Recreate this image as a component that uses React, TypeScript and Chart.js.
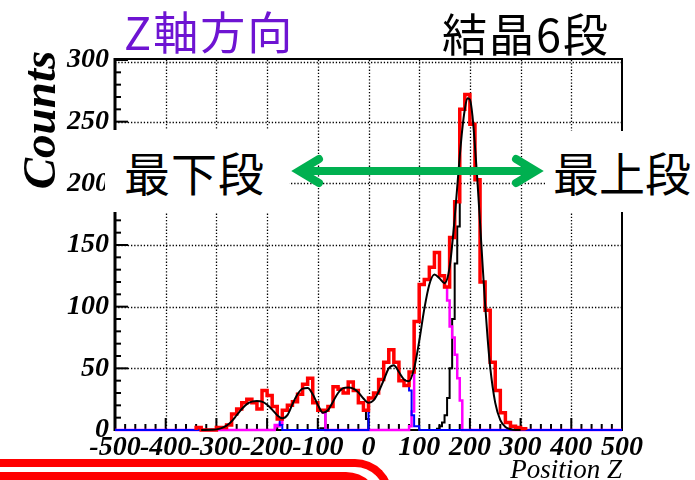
import React, { useEffect, useRef } from 'react';
import { Chart, registerables } from 'chart.js';

Chart.register(...registerables);

// ---------- axis ticks ----------
const xTicks = [-500, -400, -300, -200, -100, 0, 100, 200, 300, 400, 500];
const xTickLabels = ['-500', '-400', '-300', '-200', '-100', '0', '100', '200', '300', '400', '500'];
const yTicks = [0, 50, 100, 150, 200, 250, 300];
const yTickLabels = ['0', '50', '100', '150', '200', '250', '300'];
const xMinorStep = 20;
const yMinorStep = 10;

// ---------- total histogram (red), 10-unit bins starting at -340 ----------
const redStart = -340;
const redBinWidth = 10;
const redCounts = [
  2, 0, 0, 0, 2, 2, 4, 13, 17, 22, 25, 22, 17, 32, 28, 19, 9, 16, 20, 23,
  29, 37, 42, 22, 16, 16, 19, 35, 33, 30, 39, 32, 22, 16, 26, 30, 41, 55, 65, 55,
  40, 36, 47, 88, 118, 122, 132, 144, 125, 116, 156, 185, 260, 272, 248, 203, 120, 97, 55, 32,
  14, 6, 3, 2, 1,
];

// ---------- layer components ----------
const blueEdges = [-500, -300, -290, -280, -270, -260, -250, -240, -230, -220, -210, -200, -190, -180, -175, -170, 0, 10, 20, 30, 40, 50, 60, 70, 80, 85, 90, 100, 500];
const blueCounts = [0, 2, 2, 4, 13, 17, 22, 25, 22, 17, 32, 28, 19, 9, 4, 0, 26, 30, 41, 55, 65, 55, 40, 36, 32, 12, 3, 0, 0];

const magentaEdges = [-500, -185, -180, -175, -170, -160, -150, -140, -130, -120, -110, -100, -90, -85, 80, 85, 90, 100, 110, 120, 130, 140, 150, 155, 160, 165, 170, 175, 180, 185, 500];
const magentaCounts = [0, 4, 3, 5, 16, 20, 23, 29, 37, 42, 22, 16, 14, 0, 3, 15, 88, 118, 122, 132, 144, 125, 116, 105, 84, 75, 61, 42, 24, 0, 0];

const blackEdges = [-500, -95, -85, -80, -70, -60, -50, -40, -30, -20, -10, -5, 0, 135, 140, 145, 150, 155, 160, 165, 170, 175, 180, 190, 200, 210, 220, 230, 240, 250, 260, 270, 280, 290, 300, 310, 500];
const blackCounts = [0, 1.5, 16, 19, 35, 33, 30, 39, 32, 22, 16, 9, 0, 1, 3, 6, 12, 26, 50, 90, 135, 165, 260, 272, 248, 203, 120, 97, 55, 32, 14, 6, 3, 2, 1, 0, 0];

// ---------- fit curve (black) ----------
const fitX = [-330, -310, -300, -290, -280, -270, -260, -250, -240, -230, -220, -210, -200, -190, -180, -170, -160, -150, -140, -130, -120, -110, -100, -90, -80, -70, -60, -50, -40, -30, -20, -10, 0, 10, 20, 30, 40, 50, 60, 70, 80, 90, 100, 110, 120, 130, 140, 150, 160, 170, 175, 180, 185, 190, 195, 200, 205, 210, 215, 220, 225, 230, 235, 240, 250, 260, 270, 280, 290, 300];
const fitY = [0, 0.2, 0.5, 1.5, 3.5, 7, 12, 17, 21, 23, 23.5, 23, 20.5, 16.5, 12, 9.5, 12, 21, 29, 33.5, 34, 29, 20.5, 14, 16, 23, 30, 34, 34.5, 33.5, 30.5, 25.5, 22, 24, 31, 40.5, 50, 52.5, 47, 41, 39.5, 50, 72, 98, 118, 126, 123, 119, 132, 172, 197, 222, 244, 260, 269, 268, 255, 230, 201, 168, 134, 102, 74, 51, 22, 8, 2.5, 0.6, 0, 0];

const SERIF = '"Liberation Serif", "Times New Roman", serif';
const CJK = '"Noto Sans CJK JP", "Noto Sans", sans-serif';

function histPoints(edges: number[], counts: number[]) {
  return edges.map((e, i) => ({ x: e, y: counts[i] }));
}

function redPoints() {
  const pts = [{ x: redStart, y: 0 }];
  redCounts.forEach((c, i) => pts.push({ x: redStart + i * redBinWidth, y: c }));
  pts.push({ x: redStart + redCounts.length * redBinWidth, y: 0 });
  return pts;
}

const rootPlugin = {
  id: 'rootFrame',
  beforeDatasetsDraw(chart: any) {
    const { ctx, chartArea, scales } = chart;
    const { left, right, top, bottom } = chartArea;
    const x = scales.x;
    const y = scales.y;
    ctx.save();
    // dotted grid
    ctx.strokeStyle = '#000';
    ctx.lineWidth = 1.3;
    ctx.setLineDash([1.3, 1.9]);
    xTicks.forEach((v) => {
      if (v === xTicks[0] || v === xTicks[xTicks.length - 1]) return;
      const px = Math.round(x.getPixelForValue(v)) + 0.5;
      ctx.beginPath();
      ctx.moveTo(px, top);
      ctx.lineTo(px, bottom);
      ctx.stroke();
    });
    yTicks.forEach((v) => {
      if (v === yTicks[0]) return;
      const py = Math.round(y.getPixelForValue(v)) + 0.5 + (v === yTicks[yTicks.length - 1] ? 2 : 0);
      ctx.beginPath();
      ctx.moveTo(left, py);
      ctx.lineTo(right, py);
      ctx.stroke();
    });
    ctx.setLineDash([]);
    // inward ticks
    ctx.lineWidth = 2;
    for (let v = yTicks[0]; v <= yTicks[yTicks.length - 1]; v += yMinorStep) {
      const py = y.getPixelForValue(v);
      const major = yTicks.includes(v);
      ctx.beginPath();
      ctx.moveTo(left, py);
      ctx.lineTo(left + (major ? 13 : 6), py);
      ctx.stroke();
    }
    for (let v = xTicks[0]; v <= xTicks[xTicks.length - 1]; v += xMinorStep) {
      const px = x.getPixelForValue(v);
      const major = xTicks.includes(v);
      ctx.beginPath();
      ctx.moveTo(px, bottom);
      ctx.lineTo(px, bottom - (major ? 12 : 6));
      ctx.stroke();
    }
    // frame
    ctx.lineWidth = 2;
    ctx.strokeRect(left, top - 1, right - left, bottom - top + 1);
    ctx.lineWidth = 3;
    ctx.beginPath();
    ctx.moveTo(left, top - 2);
    ctx.lineTo(left, bottom + 1);
    ctx.stroke();
    ctx.restore();
  },
  afterDraw(chart: any) {
    const { ctx, chartArea } = chart;
    ctx.save();
    ctx.fillStyle = '#000';
    // y title
    ctx.translate(55, 120);
    ctx.rotate(-Math.PI / 2);
    ctx.font = `italic bold 47px ${SERIF}`;
    ctx.textAlign = 'center';
    ctx.textBaseline = 'alphabetic';
    ctx.fillText('Counts', 0, 0);
    ctx.restore();
    ctx.save();
    ctx.fillStyle = '#000';
    ctx.font = `italic 27px ${SERIF}`;
    ctx.textAlign = 'right';
    ctx.textBaseline = 'alphabetic';
    ctx.fillText('Position Z', chartArea.right, 478);
    ctx.restore();
  },
};

export default function App() {
  const ref = useRef<HTMLCanvasElement>(null);
  useEffect(() => {
    const tickFont = { family: SERIF, size: 28, style: 'italic' as const, weight: 'bold' as const, lineHeight: 1.1 };
    const chart = new Chart(ref.current as HTMLCanvasElement, {
      type: 'line',
      data: {
        datasets: [
          {
            label: 'fit',
            data: fitX.map((v, i) => ({ x: v, y: fitY[i] })),
            borderColor: '#000000',
            borderWidth: 2,
            pointRadius: 0,
            tension: 0.4,
            cubicInterpolationMode: 'monotone',
            order: 0,
            clip: 8,
          } as any,
          {
            label: 'total',
            data: redPoints(),
            borderColor: '#ff0000',
            borderWidth: 3.5,
            pointRadius: 0,
            stepped: true,
            order: 1,
            clip: 8,
          } as any,
          {
            label: 'blue',
            data: histPoints(blueEdges, blueCounts),
            borderColor: '#0000ff',
            borderWidth: 2,
            pointRadius: 0,
            stepped: true,
            order: 2,
            clip: 8,
          } as any,
          {
            label: 'magenta',
            data: histPoints(magentaEdges, magentaCounts),
            borderColor: '#ff00ff',
            borderWidth: 2.5,
            pointRadius: 0,
            stepped: true,
            order: 3,
            clip: 8,
          } as any,
          {
            label: 'black',
            data: histPoints(blackEdges, blackCounts),
            borderColor: '#000000',
            borderWidth: 2,
            pointRadius: 0,
            stepped: true,
            order: 4,
            clip: 8,
          } as any,
        ],
      },
      options: {
        animation: false,
        responsive: false,
        maintainAspectRatio: false,
        events: [],
        layout: { padding: { left: 0, right: 73, top: 60, bottom: 0 } },
        plugins: { legend: { display: false }, tooltip: { enabled: false }, title: { display: false } },
        scales: {
          x: {
            type: 'linear',
            min: xTicks[0],
            max: xTicks[xTicks.length - 1],
            afterFit: (s: any) => { s.height = 50; },
            afterBuildTicks: (s: any) => { s.ticks = xTicks.map((v) => ({ value: v })); },
            grid: { display: false, drawTicks: false },
            border: { display: false },
            ticks: {
              autoSkip: false,
              maxRotation: 0,
              minRotation: 0,
              padding: 2,
              color: '#000',
              font: tickFont,
              callback: (v: any) => xTickLabels[xTicks.indexOf(Number(v))] ?? '',
            },
          },
          y: {
            type: 'linear',
            min: yTicks[0],
            max: yTicks[yTicks.length - 1],
            afterFit: (s: any) => { s.width = 115; },
            afterBuildTicks: (s: any) => { s.ticks = yTicks.map((v) => ({ value: v })); },
            grid: { display: false, drawTicks: false },
            border: { display: false },
            ticks: {
              autoSkip: false,
              padding: 6,
              color: '#000',
              font: tickFont,
              callback: (v: any) => yTickLabels[yTicks.indexOf(Number(v))] ?? '',
            },
          },
        },
      } as any,
      plugins: [rootPlugin],
    });
    return () => chart.destroy();
  }, []);

  const green = '#00b050';
  return (
    <div style={{ position: 'absolute', left: 0, top: 0, width: 695, height: 480, overflow: 'hidden', background: '#fff' }}>
      <canvas ref={ref} width={695} height={480} style={{ position: 'absolute', left: 0, top: 0, display: 'block' }} />
      {/* cover boxes */}
      <div style={{ position: 'absolute', left: 105, top: 130, width: 184, height: 82, background: '#fff' }} />
      <div style={{ position: 'absolute', left: 545, top: 131, width: 150, height: 81, background: '#fff' }} />
      {/* texts */}
      <div style={{ position: 'absolute', left: 124, top: 8, fontFamily: CJK, fontSize: 45, lineHeight: '45px', color: '#6e14d2', whiteSpace: 'nowrap', letterSpacing: 2 }}>Z軸方向</div>
      <div style={{ position: 'absolute', left: 442, top: 10, fontFamily: CJK, fontSize: 45, lineHeight: '45px', color: '#000', whiteSpace: 'nowrap', letterSpacing: 2 }}>結晶6段</div>
      <div style={{ position: 'absolute', left: 124, top: 148, fontFamily: CJK, fontSize: 46, lineHeight: '46px', color: '#000', whiteSpace: 'nowrap', letterSpacing: 1 }}>最下段</div>
      <div style={{ position: 'absolute', left: 553, top: 148, fontFamily: CJK, fontSize: 46, lineHeight: '46px', color: '#000', whiteSpace: 'nowrap', letterSpacing: 0 }}>最上段</div>
      {/* arrow and decoration */}
      <svg width={695} height={480} style={{ position: 'absolute', left: 0, top: 0 }}>
        <line x1={300} y1={171} x2={535} y2={171} stroke={green} strokeWidth={8} />
        <polyline points="319,159 299,171 319,183" fill="none" stroke={green} strokeWidth={8} strokeLinecap="round" strokeLinejoin="miter" />
        <polyline points="516,159 536,171 516,183" fill="none" stroke={green} strokeWidth={8} strokeLinecap="round" strokeLinejoin="miter" />
      </svg>
      <div style={{ position: 'absolute', left: -20, top: 459, width: 413, height: 60, boxSizing: 'border-box', borderTop: '8px solid #ff0000', borderRight: '8px solid #ff0000', borderTopRightRadius: 38 }} />
      <div style={{ position: 'absolute', left: -20, top: 472, width: 400, height: 60, boxSizing: 'border-box', borderTop: '8px solid #ff0000', borderRight: '8px solid #ff0000', borderTopRightRadius: 34 }} />
    </div>
  );
}
